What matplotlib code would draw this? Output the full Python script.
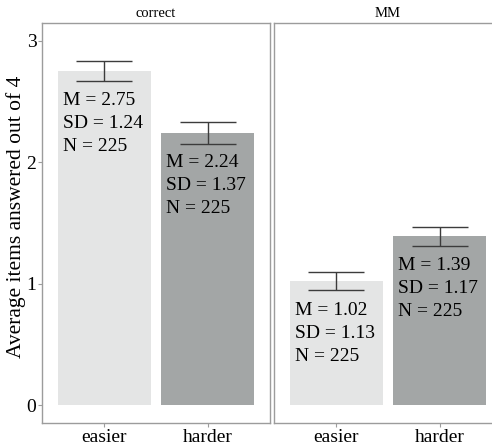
"""Facetted bar chart: average items answered (easier vs harder), correct and MM."""

import numpy as np
import matplotlib.pyplot as plt

plt.rcParams['font.family'] = ['Liberation Serif', 'DejaVu Serif']

panels = ['correct', 'MM']
conditions = ['easier', 'harder']
means = {'correct': [2.75, 2.24], 'MM': [1.02, 1.39]}
sds = {'correct': [1.24, 1.37], 'MM': [1.13, 1.17]}
ns = {'correct': [225, 225], 'MM': [225, 225]}

bar_colors = ['#e4e5e5', '#a3a6a6']
edge_gray = '#9c9c9c'


def draw_panel(ax, name):
	x = np.arange(1, len(conditions) + 1)
	m = np.array(means[name])
	sd = np.array(sds[name])
	n = np.array(ns[name])
	se = sd / np.sqrt(n)

	ax.bar(x, m, width=0.9, color=bar_colors, zorder=1)
	ax.errorbar(x, m, yerr=se, fmt='none', ecolor='#3c3c3c', elinewidth=1,
		capsize=20.5, capthick=1, zorder=2)

	for xi, mi, si, ni in zip(x, m, sd, n):
		label = 'M = %.2f\nSD = %.2f\nN = %d' % (mi, si, ni)
		ax.text(xi - 0.4, mi - 0.17, label, ha='left', va='top',
			fontsize=14, linespacing=1.45, zorder=3)

	ax.set_xlim(0.4, 2.6)
	ax.set_ylim(-0.148, 3.148)
	ax.set_xticks(x)
	ax.set_xticklabels(conditions, fontsize=14)
	ax.set_yticks([0, 1, 2, 3])
	ax.tick_params(axis='both', length=3, width=0.8, color=edge_gray,
		labelsize=14, pad=1)
	for sp in ax.spines.values():
		sp.set_color(edge_gray)
		sp.set_linewidth(1)
	ax.set_title(name, fontsize=10.5, pad=4)


fig = plt.figure(figsize=(4.92, 4.45), dpi=100)
ax1 = fig.add_axes([42 / 492, 22 / 445, 228 / 492, 400 / 445])
ax2 = fig.add_axes([274 / 492, 22 / 445, 228 / 492, 400 / 445])

draw_panel(ax1, panels[0])
draw_panel(ax2, panels[1])
ax2.tick_params(axis='y', left=False, labelleft=False)
ax2.spines['right'].set_visible(False)

ax1.set_ylabel('Average items answered out of 4', fontsize=15.5)
ax1.yaxis.set_label_coords(-0.072, 0.515)

fig.savefig('out.png', dpi=100)
